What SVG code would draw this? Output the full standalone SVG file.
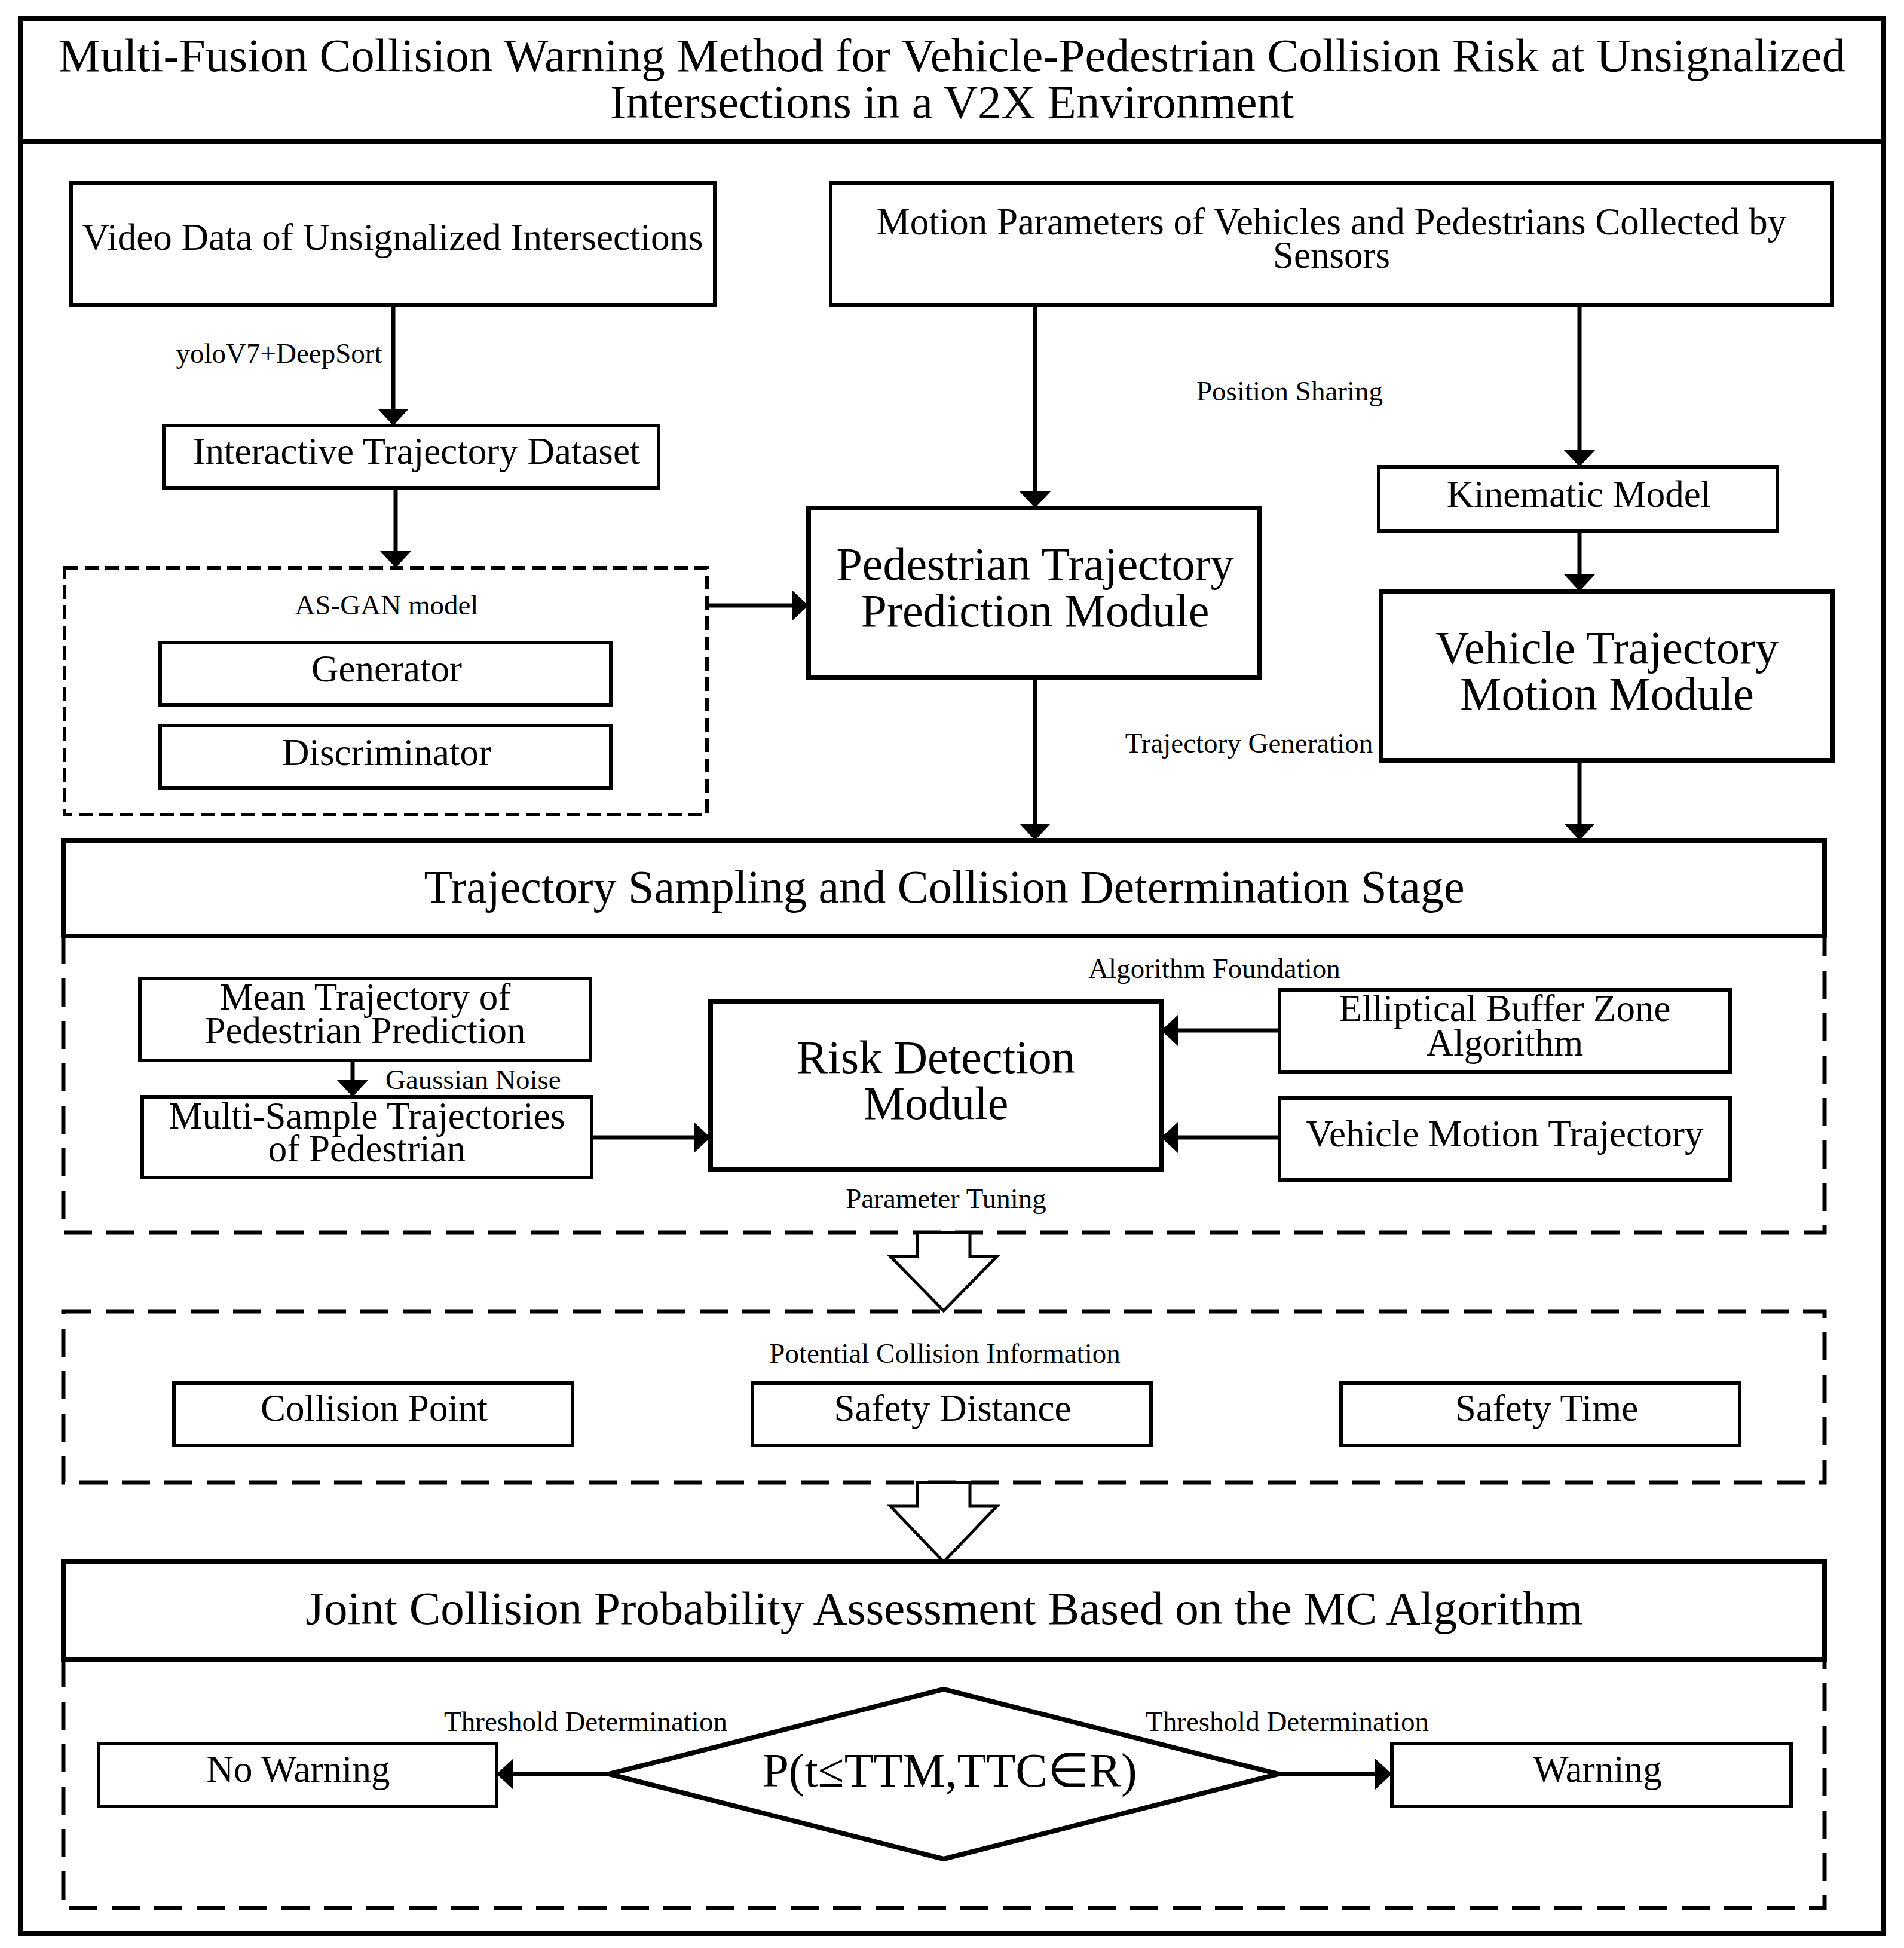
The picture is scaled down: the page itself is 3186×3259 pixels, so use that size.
<svg xmlns="http://www.w3.org/2000/svg" width="3186" height="3259" viewBox="0 0 3186 3259">
<style>
.bg{fill:#fff}
.box{fill:#fff;stroke:#000;stroke-width:6}
.big{fill:#fff;stroke:#000;stroke-width:8}
.dash{fill:none;stroke:#000;stroke-width:7;stroke-dasharray:47 24}
.dashs{fill:none;stroke:#000;stroke-width:6;stroke-dasharray:23 11}
.ln{fill:none;stroke:#000;stroke-width:7}
.hol{fill:#fff;stroke:#000;stroke-width:5;stroke-linejoin:miter}
text{font-family:"Liberation Serif","Times New Roman",serif;fill:#000;text-anchor:middle;dominant-baseline:central}
.t{font-size:63px}
.lg{font-size:78px}
.ti{font-size:79px}
.sm{font-size:47px}
</style>
<defs>
<marker id="ah" markerUnits="userSpaceOnUse" markerWidth="28" markerHeight="52" refX="28" refY="26" orient="auto">
<path d="M0,0 L28,26 L0,52 Z" fill="#000"/>
</marker>
</defs>
<rect class="bg" x="0" y="0" width="3186" height="3259"/>

<g id="frame">
<rect x="34" y="31" width="3118" height="3204" fill="none" stroke="#000" stroke-width="8"/>
<line x1="34" y1="237" x2="3152" y2="237" stroke="#000" stroke-width="8"/>
</g>

<g id="title">
<text class="ti"><tspan x="1593" y="92">Multi-Fusion Collision Warning Method for Vehicle-Pedestrian Collision Risk at Unsignalized</tspan><tspan x="1593" y="170">Intersections in a V2X Environment</tspan></text>
</g>

<g id="regions">
<path class="dash" d="M106,1566 V2062 H3053 V1566"/>
<rect class="dash" x="106" y="2194" width="2947" height="286"/>
<path class="dash" d="M106,2776 V3192 H3053 V2776"/>
</g>

<g id="connectors">
<line class="ln" x1="658" y1="510" x2="658" y2="712" marker-end="url(#ah)"/>
<line class="ln" x1="662" y1="816" x2="662" y2="950" marker-end="url(#ah)"/>
<line class="ln" x1="1183" y1="1013" x2="1353" y2="1013" marker-end="url(#ah)"/>
<line class="ln" x1="1732" y1="510" x2="1732" y2="850" marker-end="url(#ah)"/>
<line class="ln" x1="2643" y1="510" x2="2643" y2="781" marker-end="url(#ah)"/>
<line class="ln" x1="2643" y1="888" x2="2643" y2="989" marker-end="url(#ah)"/>
<line class="ln" x1="1732" y1="1134" x2="1732" y2="1406" marker-end="url(#ah)"/>
<line class="ln" x1="2643" y1="1272" x2="2643" y2="1406" marker-end="url(#ah)"/>
<line class="ln" x1="590" y1="1774" x2="590" y2="1835" marker-end="url(#ah)"/>
<line class="ln" x1="990" y1="1903" x2="1189" y2="1903" marker-end="url(#ah)"/>
<line class="ln" x1="2141" y1="1724" x2="1943" y2="1724" marker-end="url(#ah)"/>
<line class="ln" x1="2141" y1="1903" x2="1943" y2="1903" marker-end="url(#ah)"/>
<line class="ln" x1="1019" y1="2968" x2="831" y2="2968" marker-end="url(#ah)"/>
<line class="ln" x1="2139" y1="2968" x2="2329" y2="2968" marker-end="url(#ah)"/>
<polygon class="hol" points="1535,2062 1623,2062 1623,2102 1668,2102 1579,2193 1490,2102 1535,2102"/>
<polygon class="hol" points="1535,2480 1623,2480 1623,2520 1668,2520 1579,2613 1490,2520 1535,2520"/>
<text class="sm" x="467" y="591">yoloV7+DeepSort</text>
<text class="sm" x="2158" y="654">Position Sharing</text>
<text class="sm" x="2090" y="1243">Trajectory Generation</text>
<text class="sm" x="2032" y="1620">Algorithm Foundation</text>
<text class="sm" x="645" y="1806" style="text-anchor:start">Gaussian Noise</text>
<text class="sm" x="1583" y="2005">Parameter Tuning</text>
<text class="sm" x="980" y="2880">Threshold Determination</text>
<text class="sm" x="2154" y="2880">Threshold Determination</text>
</g>

<g id="video">
<rect class="box" x="119" y="306" width="1077" height="204"/>
<text class="t" x="657" y="397">Video Data of Unsignalized Intersections</text>
</g>
<g id="motion">
<rect class="box" x="1390" y="306" width="1676" height="204"/>
<text class="t"><tspan x="2228" y="371">Motion Parameters of Vehicles and Pedestrians Collected by</tspan><tspan x="2228" y="427">Sensors</tspan></text>
</g>
<g id="dataset">
<rect class="box" x="274" y="712" width="828" height="104"/>
<text class="t" x="697" y="755">Interactive Trajectory Dataset</text>
</g>
<g id="asgan">
<rect class="dashs" x="108" y="950" width="1075" height="413"/>
<text class="sm" x="647" y="1012">AS-GAN model</text>
</g>
<g id="generator">
<rect class="box" x="268" y="1075" width="754" height="104"/>
<text class="t" x="647" y="1119">Generator</text>
</g>
<g id="discriminator">
<rect class="box" x="268" y="1214" width="754" height="104"/>
<text class="t" x="647" y="1259">Discriminator</text>
</g>
<g id="pedestrian">
<rect class="big" x="1353" y="850" width="755" height="284"/>
<text class="lg"><tspan x="1732" y="943">Pedestrian Trajectory</tspan><tspan x="1732" y="1021">Prediction Module</tspan></text>
</g>
<g id="kinematic">
<rect class="box" x="2307" y="781" width="667" height="107"/>
<text class="t" x="2642" y="827">Kinematic Model</text>
</g>
<g id="vehicle">
<rect class="big" x="2311" y="989" width="755" height="283"/>
<text class="lg"><tspan x="2689" y="1083">Vehicle Trajectory</tspan><tspan x="2689" y="1160">Motion Module</tspan></text>
</g>
<g id="stage">
<rect class="big" x="106" y="1406" width="2947" height="160"/>
<text class="lg" x="1580" y="1483">Trajectory Sampling and Collision Determination Stage</text>
</g>
<g id="mean">
<rect class="box" x="234" y="1637" width="754" height="137"/>
<text class="t"><tspan x="611" y="1668">Mean Trajectory of</tspan><tspan x="611" y="1724">Pedestrian Prediction</tspan></text>
</g>
<g id="multi">
<rect class="box" x="238" y="1835" width="752" height="135"/>
<text class="t"><tspan x="614" y="1867">Multi-Sample Trajectories</tspan><tspan x="614" y="1922">of Pedestrian</tspan></text>
</g>
<g id="risk">
<rect class="big" x="1189" y="1676" width="754" height="281"/>
<text class="lg"><tspan x="1566" y="1768">Risk Detection</tspan><tspan x="1566" y="1845">Module</tspan></text>
</g>
<g id="ellipse">
<rect class="box" x="2141" y="1656" width="754" height="137"/>
<text class="t"><tspan x="2518" y="1687">Elliptical Buffer Zone</tspan><tspan x="2518" y="1745">Algorithm</tspan></text>
</g>
<g id="vmt">
<rect class="box" x="2141" y="1837" width="754" height="137"/>
<text class="t" x="2518" y="1897">Vehicle Motion Trajectory</text>
</g>
<g id="pci">
<text class="sm" x="1581" y="2264">Potential Collision Information</text>
</g>
<g id="collision">
<rect class="box" x="291" y="2314" width="667" height="104"/>
<text class="t" x="626" y="2356">Collision Point</text>
</g>
<g id="safedist">
<rect class="box" x="1259" y="2314" width="667" height="104"/>
<text class="t" x="1594" y="2356">Safety Distance</text>
</g>
<g id="safetime">
<rect class="box" x="2244" y="2314" width="667" height="104"/>
<text class="t" x="2588" y="2356">Safety Time</text>
</g>
<g id="joint">
<rect class="big" x="106" y="2613" width="2947" height="163"/>
<text class="lg" x="1580" y="2690" style="font-size:79px">Joint Collision Probability Assessment Based on the MC Algorithm</text>
</g>
<g id="decision">
<polygon class="big" points="1579,2826 2139,2968 1579,3110 1019,2968"/>
<text class="lg" x="1589" y="2962" style="font-size:80px">P(t≤TTM,TTC∈R)</text>
</g>
<g id="nowarning">
<rect class="box" x="165" y="2917" width="666" height="105"/>
<text class="t" x="499" y="2960">No Warning</text>
</g>
<g id="warning">
<rect class="box" x="2329" y="2917" width="668" height="105"/>
<text class="t" x="2673" y="2960">Warning</text>
</g>
</svg>
